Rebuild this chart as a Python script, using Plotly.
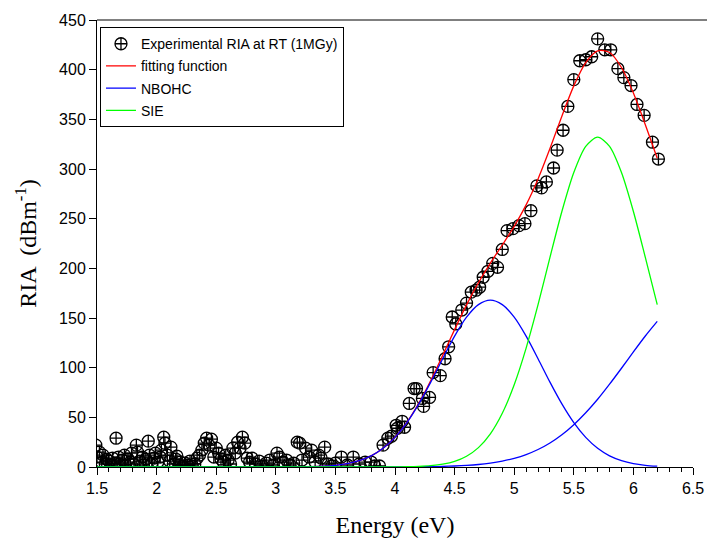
import plotly.graph_objects as go

# ---- experimental data (energy in eV, RIA in dB/m) ----
exp_energy = [1.49, 1.50, 1.52, 1.54, 1.55, 1.57, 1.58, 1.60, 1.62, 1.63, 1.65, 1.66, 1.68, 1.69,
              1.71, 1.73, 1.74, 1.76, 1.78, 1.79, 1.81, 1.83, 1.84, 1.86, 1.88, 1.89, 1.91, 1.93,
              1.94, 1.96, 1.98, 1.99, 2.01, 2.03, 2.04, 2.06, 2.07, 2.09, 2.11, 2.12, 2.14, 2.16,
              2.17, 2.19, 2.20, 2.22, 2.24, 2.26, 2.28, 2.30, 2.32, 2.34, 2.36, 2.38, 2.40, 2.42,
              2.44, 2.46, 2.48, 2.50, 2.52, 2.54, 2.56, 2.58, 2.60, 2.62, 2.64, 2.66, 2.68, 2.70,
              2.72, 2.74, 2.76, 2.78, 2.80, 2.83, 2.86, 2.89, 2.92, 2.95, 2.98, 3.01, 3.03, 3.06,
              3.09, 3.12, 3.15, 3.18, 3.20, 3.22, 3.25, 3.28, 3.30, 3.33, 3.36, 3.38, 3.41, 3.44,
              3.47, 3.50, 3.55, 3.60, 3.65, 3.70, 3.75, 3.80, 3.83,
              3.87, 3.90, 3.94, 3.97, 4.01, 4.02, 4.06, 4.08, 4.12, 4.16, 4.18, 4.23, 4.24, 4.29,
              4.32, 4.38, 4.42, 4.45, 4.48, 4.51, 4.56, 4.60, 4.64, 4.68, 4.71, 4.74, 4.78, 4.82,
              4.86, 4.90, 4.94, 4.99, 5.04, 5.09, 5.14, 5.19, 5.23, 5.27, 5.33, 5.36, 5.41, 5.45,
              5.50, 5.55, 5.60, 5.65, 5.70, 5.76, 5.81, 5.87, 5.92, 5.98, 6.03, 6.09, 6.16, 6.21]
exp_ria = [22, 10, 15, 5, 12, 3, 8, 6, 2, 9, 4, 29, 10, 3,
           7, 12, 2, 8, 5, 14, 3, 22, 15, 6, 10, 2, 8, 26,
           12, 4, 9, 14, 5, 10, 17, 30, 24, 12, 6, 20, 3, 8,
           11, 2, 5, 1, 4, 2, 6, 1, 3, 9, 12, 17, 24, 29,
           22, 28, 10, 19, 14, 8, 5, 12, 7, 3, 19, 14, 25, 19,
           30, 24, 9, 5, 9, 3, 6, 1, 4, 7, 2, 14, 10, 5,
           7, 2, 4, 25, 24, 7, 19, 10, 17, 5, 12, 9, 20, 3,
           1, 4, 10, 2, 10, 3, 5, 5, 1,
           1, 22, 29, 31, 42, 39, 46, 40, 64, 79, 79, 69, 61, 70,
           95, 92, 109, 121, 151, 144, 158, 165, 176, 178, 181, 191, 197, 205,
           201, 219, 238, 240, 243, 245, 258, 283, 281, 287, 301, 319, 339, 363,
           390, 409, 410, 413, 431, 420, 420, 401, 392, 384, 365, 354, 327, 310]

# ---- fitted curves ----
curve_energy = [1.5, 2.0, 2.5, 3.0, 3.1, 3.2, 3.3, 3.4, 3.5, 3.6, 3.7, 3.8, 3.9, 4.0, 4.1,
                4.2, 4.3, 4.4, 4.5, 4.6, 4.7, 4.8, 4.9, 5.0, 5.1, 5.2, 5.3, 5.4, 5.5,
                5.6, 5.7, 5.8, 5.9, 6.0, 6.1, 6.2]
fit_total = [0, 0, 0, 0, 0.1, 0.2, 0.4, 0.8, 1.7, 3.4, 6.4, 11.2, 18.8, 30.0, 45.0,
             64.3, 87.1, 112.4, 138.3, 163.2, 185.5, 205.3, 223.5, 242.3, 263.9, 290.0, 320.6, 353.2, 383.7,
             407.1, 419.0, 417.3, 402.2, 376.5, 344.6, 310.8]
nbohc = [0, 0, 0, 0, 0.1, 0.2, 0.4, 0.8, 1.7, 3.4, 6.4, 11.2, 18.8, 29.8, 44.7,
         63.5, 85.4, 109.0, 131.7, 150.8, 163.5, 168.0, 163.5, 150.8, 131.7, 109.0, 85.4, 63.5, 44.7,
         29.8, 18.8, 11.2, 6.4, 3.4, 1.7, 0.8]
band_high = [0, 0, 0, 0, 0, 0, 0, 0, 0, 0, 0, 0, 0, 0.06, 0.1,
             0.2, 0.35, 0.6, 1.0, 1.6, 2.5, 3.9, 5.9, 8.7, 12.5, 17.6, 24.2, 32.5, 42.6,
             54.6, 68.2, 83.4, 99.4, 115.9, 131.9, 146.6]
sie = [0, 0, 0, 0, 0, 0, 0, 0, 0, 0, 0, 0, 0.03, 0.09, 0.23,
       0.56, 1.3, 2.8, 5.6, 10.8, 19.5, 33.4, 54.1, 82.8, 119.7, 163.4, 211.0, 257.2, 296.4,
       322.7, 332.0, 322.7, 296.4, 257.2, 211.0, 163.4]

x_ticks = [1.5, 2, 2.5, 3, 3.5, 4, 4.5, 5, 5.5, 6, 6.5]
x_tick_text = ["1.5", "2", "2.5", "3", "3.5", "4", "4.5", "5", "5.5", "6", "6.5"]
y_ticks = [0, 50, 100, 150, 200, 250, 300, 350, 400, 450]

fig = go.Figure()
fig.add_trace(go.Scatter(
    x=exp_energy, y=exp_ria, mode="markers", name="Experimental RIA at RT (1MGy)",
    legendgroup="a",
    marker=dict(symbol="circle-cross-open", size=12, color="black", line=dict(width=1.3, color="black"))))
fig.add_trace(go.Scatter(
    x=curve_energy, y=fit_total, mode="lines", name="fitting function", legendgroup="b",
    line=dict(color="#ff0000", width=1.3, shape="spline", smoothing=0.8)))
fig.add_trace(go.Scatter(
    x=curve_energy, y=nbohc, mode="lines", name="NBOHC", legendgroup="c",
    line=dict(color="#0000ff", width=1.3, shape="spline", smoothing=0.8)))
fig.add_trace(go.Scatter(
    x=curve_energy, y=band_high, mode="lines", name="NBOHC", showlegend=False, legendgroup="c",
    line=dict(color="#0000ff", width=1.3, shape="spline", smoothing=0.8)))
fig.add_trace(go.Scatter(
    x=curve_energy, y=sie, mode="lines", name="SIE", legendgroup="d",
    line=dict(color="#00ff00", width=1.3, shape="spline", smoothing=0.8)))

fig.update_layout(
    width=707, height=542,
    margin=dict(l=97, r=14, t=20, b=75),
    paper_bgcolor="white", plot_bgcolor="white",
    font=dict(family="Liberation Sans, Arial, sans-serif", color="black"),
    showlegend=True,
    legend=dict(x=0.005, y=0.984, xanchor="left", yanchor="top",
                bgcolor="white", bordercolor="black", borderwidth=1,
                font=dict(size=14, family="Liberation Sans, Arial, sans-serif"),
                tracegroupgap=1, itemwidth=30),
    xaxis=dict(range=[1.5, 6.5], tickvals=x_ticks, ticktext=x_tick_text, automargin=False,
               ticks="outside", ticklen=7, tickwidth=1, tickcolor="black",
               showline=True, linecolor="black", linewidth=1, showgrid=False, zeroline=False,
               tickfont=dict(size=16),
               minor=dict(dtick=0.1, ticks="outside", ticklen=4, tickcolor="black", showgrid=False),
               title=dict(text="Energy (eV)", font=dict(family="Liberation Serif, Times New Roman, serif", size=24),
                          standoff=19)),
    yaxis=dict(range=[0, 450], tickvals=y_ticks, automargin=False,
               ticks="outside", ticklen=7, tickwidth=1, tickcolor="black",
               showline=True, linecolor="black", linewidth=1, showgrid=False, zeroline=False,
               tickfont=dict(size=16),
               title=dict(text="RIA  (dBm<sup>-1</sup>)", font=dict(family="Liberation Serif, Times New Roman, serif", size=24),
                          standoff=15)),
    shapes=[dict(type="line", xref="paper", yref="paper", x0=0, x1=1.03, y0=1, y1=1,
                 line=dict(color="black", width=1))],
)

# remove the browser's default 8px page margin so the figure fills the window exactly
fig.write_html("out.html", config={"displayModeBar": False},
               post_script="document.body.style.margin='0';document.body.style.overflow='hidden';")
